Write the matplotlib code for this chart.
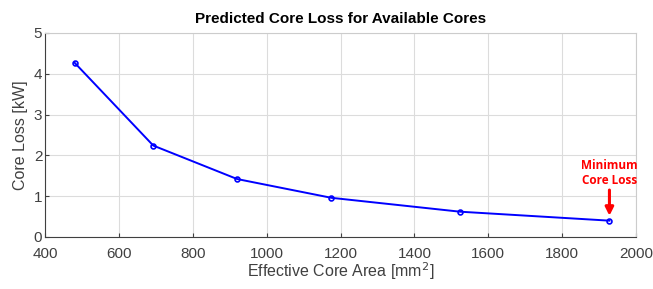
import numpy as np
import matplotlib.pyplot as plt

plt.rcParams['font.family'] = ['Liberation Sans', 'DejaVu Sans']

# effective core area [mm^2] and predicted core loss [kW]
area = [480, 693, 920, 1175, 1523, 1928]
loss = [4.27, 2.24, 1.42, 0.96, 0.62, 0.40]
xticks = [400, 600, 800, 1000, 1200, 1400, 1600, 1800, 2000]
yticks = [0, 1, 2, 3, 4, 5]

fig = plt.figure(figsize=(6.53, 2.89), dpi=100)
ax = fig.add_axes([0.069, 0.18, 0.905, 0.706])

ax.plot(area, loss, '-o', color='#0000ff', lw=1.4, ms=3.5, mfc='none', mew=1.2)

# annotate the smallest loss
i = int(np.argmin(loss))
ax.annotate('', xy=(area[i], loss[i] + 0.12), xytext=(area[i], loss[i] + 0.75),
            arrowprops=dict(arrowstyle='-|>', color='red', lw=2.2, mutation_scale=12,
                            shrinkA=0, shrinkB=0))
ax.text(area[i], loss[i] + 0.82, 'Minimum\nCore Loss', ha='center', va='bottom',
        color='red', fontsize=8.5, fontweight='bold', linespacing=1.25,
        family=['Open Sans', 'DejaVu Sans'])

ax.set_xlim(400, 2000)
ax.set_ylim(0, 5)
ax.set_xticks(xticks)
ax.set_yticks(yticks)
ax.grid(True, color='#dcdcdc', lw=0.8)
ax.set_axisbelow(True)
ax.tick_params(direction='in', length=3, colors='#404040', labelsize=11)
ax.tick_params(axis='x', pad=7)
ax.tick_params(axis='y', pad=2)
for s in ['left', 'bottom']:
    ax.spines[s].set_color('#404040')
for s in ['top', 'right']:
    ax.spines[s].set_color('#cccccc')

ax.set_xlabel('Effective Core Area [mm$^2$]', fontsize=11.5, color='#404040', labelpad=0)
ax.set_ylabel('Core Loss [kW]', fontsize=11.5, color='#404040', labelpad=4)
ax.set_title('Predicted Core Loss for Available Cores', fontsize=11, fontweight='bold', pad=7)

fig.savefig('out.png', dpi=100)
